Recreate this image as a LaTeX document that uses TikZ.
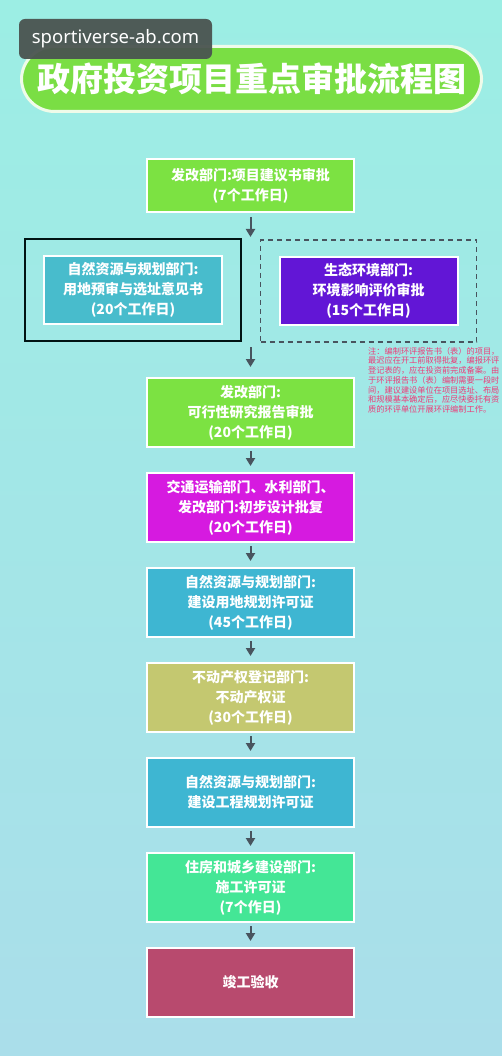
\documentclass[tikz,border=0pt]{standalone}
\usepackage{fontspec}
\setmainfont{Noto Sans CJK SC}
\newfontfamily\urlfont{Noto Sans}
\usetikzlibrary{positioning,arrows.meta}
\definecolor{bgtop}{RGB}{156,238,228}
\definecolor{bgbottom}{RGB}{170,222,234}
\definecolor{titlegreen}{RGB}{122,222,68}
\definecolor{ndrcgreen}{RGB}{124,226,66}
\definecolor{landteal}{RGB}{72,188,204}
\definecolor{envpurple}{RGB}{98,22,214}
\definecolor{transmagenta}{RGB}{214,26,224}
\definecolor{permitblue}{RGB}{62,182,210}
\definecolor{estateolive}{RGB}{196,200,112}
\definecolor{housingmint}{RGB}{68,230,150}
\definecolor{finalrose}{RGB}{184,74,110}
\definecolor{notered}{RGB}{236,60,120}
\definecolor{arrowgray}{RGB}{72,84,94}
\definecolor{markgray}{RGB}{74,84,80}

\begin{document}
\begin{tikzpicture}[
    x=1pt, y=1pt,
    stepbox/.style={draw=white, line width=2pt, minimum width=207pt, minimum height=69pt,
      align=center, text=white, inner sep=2pt, font=\fontsize{14}{20}\selectfont\bfseries},
    innerbox/.style={stepbox, minimum width=178pt, minimum height=68pt},
    frame/.style={minimum width=216pt, minimum height=102pt, inner sep=0pt},
    flow/.style={draw=arrowgray, line width=2pt, -{Triangle[width=9pt,length=8pt]}},
    node distance=24pt
  ]
  \shade[top color=bgtop, bottom color=bgbottom] (0,0) rectangle (502,-1056);
  \useasboundingbox (0,0) rectangle (502,-1056);

  \node[draw=white!88!titlegreen, line width=3pt, fill=titlegreen, rounded corners=33pt,
    minimum width=460pt, minimum height=65pt, text=white,
    font=\fontsize{33}{36}\selectfont\bfseries] (title) at (251.5,-79) {政府投资项目重点审批流程图};
  \node[fill=markgray, fill opacity=0.95, text opacity=1, rounded corners=6pt, text=white,
    minimum width=193pt, minimum height=40pt, font=\urlfont\fontsize{18.5}{20}\selectfont] (mark) at (115.5,-39) {sportiverse-ab.com};

  \node[stepbox, fill=ndrcgreen, minimum height=53pt] (b1) at (250.5,-185.5) {发改部门:项目建议书审批\\(7个工作日)};

  \node[frame, draw=black!85!teal, line width=2pt] (lframe) at (133,-290) {};
  \node[frame, draw=arrowgray, line width=1.5pt, dash pattern=on 5pt off 4pt] (rframe) at (368.5,-291) {};
  \node[innerbox, fill=landteal] (b2a) at (lframe.center) {自然资源与规划部门:\\用地预审与选址意见书\\(20个工作日)};
  \node[innerbox, fill=envpurple] (b2b) at (rframe.center) {生态环境部门:\\环境影响评价审批\\(15个工作日)};

  \node[anchor=north west, align=left, inner sep=0pt, text=notered,
    font=\fontsize{8.2}{9.7}\selectfont] (note) at (368,-347) {注：编制环评报告书（表）的项目，\\最迟应在开工前取得批复，编报环评\\登记表的，应在投资前完成备案。由\\于环评报告书（表）编制需要一段时\\间，建议建设单位在项目选址、布局\\和规模基本确定后，应尽快委托有资\\质的环评单位开展环评编制工作。};

  \node[stepbox, fill=ndrcgreen] (b3) at (250.5,-412.5) {发改部门:\\可行性研究报告审批\\(20个工作日)};
  \node[stepbox, fill=transmagenta, below=of b3] (b4) {交通运输部门、水利部门、\\发改部门:初步设计批复\\(20个工作日)};
  \node[stepbox, fill=permitblue, below=of b4] (b5) {自然资源与规划部门:\\建设用地规划许可证\\(45个工作日)};
  \node[stepbox, fill=estateolive, below=of b5] (b6) {不动产权登记部门:\\不动产权证\\(30个工作日)};
  \node[stepbox, fill=permitblue, below=of b6] (b7) {自然资源与规划部门:\\建设工程规划许可证};
  \node[stepbox, fill=housingmint, below=of b7] (b8) {住房和城乡建设部门:\\施工许可证\\(7个作日)};
  \node[stepbox, fill=finalrose, below=of b8] (b9) {竣工验收};

  \draw[flow, shorten <=4pt, shorten >=1pt] (b1.south) -- (b1.south |- lframe.north);
  \draw[flow, shorten <=5pt, shorten >=10pt] (b3.north |- lframe.south) -- (b3.north);
  \foreach \a/\b in {b3/b4, b4/b5, b5/b6, b6/b7, b7/b8, b8/b9}
    \draw[flow, shorten <=3pt, shorten >=6pt] (\a.south) -- (\b.north);
\end{tikzpicture}
\end{document}
